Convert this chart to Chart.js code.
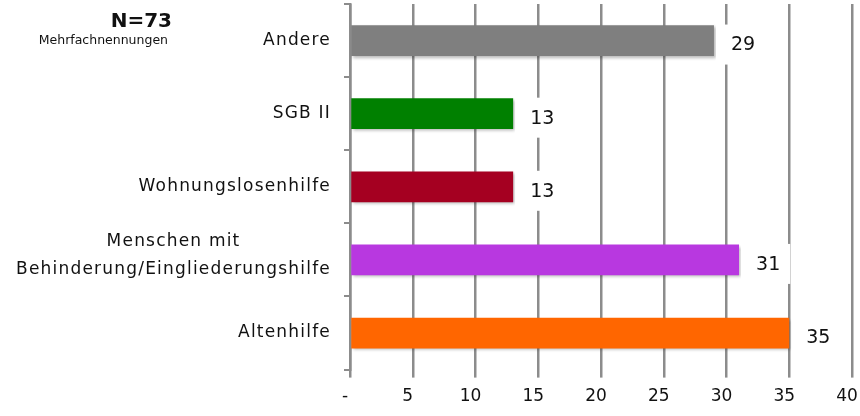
<!DOCTYPE html>
<html>
<head>
<meta charset="utf-8">
<script src="https://cdn.jsdelivr.net/npm/chart.js@4/dist/chart.umd.min.js"></script>
<style>
  html, body { margin: 0; padding: 0; background: #fff; }
  #wrap { width: 860px; height: 416px; position: relative; }
</style>
</head>
<body>
<div id="wrap"><canvas id="c" width="860" height="416"></canvas></div>
<script>
// ---- data ----
const categories = ["Andere", "SGB II", "Wohnungslosenhilfe", ["Menschen mit", "Behinderung/Eingliederungshilfe"], "Altenhilfe"];
const values = [29, 13, 13, 31, 35];
const barColors = ["#7f7f7f", "#008000", "#a50021", "#b838e0", "#ff6600"];
const xTicks = { min: 0, max: 40, step: 5 };
const titleMain = "N=73";
const titleSub = "Mehrfachnennungen";

const FONT = "'DejaVu Sans', sans-serif";
const GRID = "#8c8c8c";

const labelPlugin = {
  id: 'labelsAndShadow',
  beforeDatasetsDraw(chart) {
    const ctx = chart.ctx;
    ctx.save();
    ctx.shadowColor = 'rgba(0,0,0,0.28)';
    ctx.shadowOffsetX = 2;
    ctx.shadowOffsetY = 2;
    ctx.shadowBlur = 3;
  },
  afterDatasetsDraw(chart) {
    const ctx = chart.ctx;
    ctx.restore();
    const meta = chart.getDatasetMeta(0);
    ctx.save();
    ctx.font = "19px " + FONT;
    ctx.textBaseline = 'middle';
    ctx.textAlign = 'left';
    meta.data.forEach((bar, i) => {
      const txt = String(values[i]);
      const w = ctx.measureText(txt).width;
      const gap = 17;
      const cy = bar.y + 4;
      ctx.fillStyle = '#ffffff';
      ctx.fillRect(bar.x + 2, cy - 20, gap + w + 8, 40);
      ctx.fillStyle = '#111';
      ctx.fillText(txt, bar.x + gap, cy + 1);
    });
    ctx.restore();
  },
  afterDraw(chart) {
    const ctx = chart.ctx;
    const y = chart.scales.y;
    ctx.save();
    // category labels
    ctx.font = "17px " + FONT;
    ctx.letterSpacing = '1.2px';
    ctx.fillStyle = '#111';
    ctx.textBaseline = 'middle';
    ctx.textAlign = 'center';
    const right = chart.chartArea.left - 19;
    categories.forEach((lab, i) => {
      const lines = Array.isArray(lab) ? lab : [lab];
      const W = Math.max(...lines.map(l => ctx.measureText(l).width));
      const lh = 28;
      const cy = y.getPixelForValue(i) - (lines.length > 1 ? 4 : 0);
      lines.forEach((l, k) => {
        const ly = cy + (k - (lines.length - 1) / 2) * lh;
        ctx.fillText(l, right - W / 2, ly);
      });
    });
    // title
    ctx.letterSpacing = '0px';
    ctx.textAlign = 'right';
    ctx.textBaseline = 'alphabetic';
    ctx.font = "bold 20px " + FONT;
    ctx.fillStyle = '#111';
    ctx.fillText(titleMain, 172, 27);
    ctx.font = "12.5px " + FONT;
    ctx.fillText(titleSub, 168, 44);
    ctx.restore();
  }
};

new Chart(document.getElementById('c'), {
  type: 'bar',
  data: {
    labels: categories,
    datasets: [{
      data: values,
      backgroundColor: barColors,
      borderWidth: 0,
      barPercentage: 0.42,
      categoryPercentage: 1.0
    }]
  },
  options: {
    indexAxis: 'y',
    responsive: false,
    animation: false,
    events: [],
    layout: { padding: { top: 4, right: 0, bottom: 0, left: 0 } },
    plugins: { legend: { display: false }, tooltip: { enabled: false }, title: { display: false } },
    scales: {
      x: {
        min: xTicks.min,
        max: xTicks.max,
        afterFit(scale) { scale.paddingRight = 8; },
        ticks: {
          stepSize: xTicks.step,
          color: '#111',
          font: { family: FONT, size: 17 },
          padding: 9,
          labelOffset: -5,
          maxRotation: 0,
          callback: v => v === 0 ? '-' : String(v)
        },
        grid: { color: GRID, lineWidth: 2.5, tickLength: 8, drawTicks: true },
        border: { display: false }
      },
      y: {
        afterFit(scale) { scale.width = 350; },
        ticks: { display: false },
        grid: { display: true, drawOnChartArea: false, drawTicks: true, tickLength: 6, color: GRID, lineWidth: 2 },
        border: { display: true, color: GRID, width: 2.5 }
      }
    }
  },
  plugins: [labelPlugin]
});
</script>
</body>
</html>
